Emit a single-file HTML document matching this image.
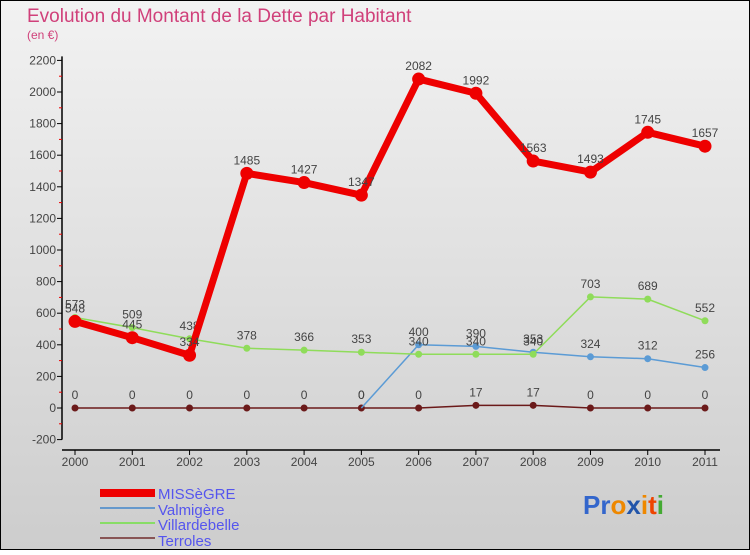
<!DOCTYPE html>
<html><head><meta charset="utf-8"><style>
body{margin:0;}
#c{width:750px;height:550px;position:relative;font-family:"Liberation Sans",sans-serif;}
</style></head><body>
<div id="c">
<svg id="s" width="750" height="550" xmlns="http://www.w3.org/2000/svg">
<defs><linearGradient id="bg" x1="0" y1="0" x2="0" y2="1"><stop offset="0" stop-color="#f2f2f2"/><stop offset="1" stop-color="#cdcdcd"/></linearGradient></defs>
<rect x="0.5" y="0.5" width="749" height="549" fill="url(#bg)" stroke="#000"/>
<text x="27" y="22" font-size="19" fill="#d0407a">Evolution du Montant de la Dette par Habitant</text>
<text x="27" y="39" font-size="12" fill="#d0407a">(en €)</text>
<g id="axes"></g><g id="series"></g>
<g>
<rect x="100" y="489" width="55" height="8" fill="#ee0000"/>
<text x="158" y="499" font-size="15" fill="#5555ee">MISSèGRE</text>
<rect x="100" y="507" width="55" height="2" fill="#6699cc"/>
<text x="158" y="515" font-size="15" fill="#5555ee">Valmigère</text>
<rect x="100" y="522" width="55" height="2" fill="#88dd66"/>
<text x="158" y="530" font-size="15" fill="#5555ee">Villardebelle</text>
<rect x="100" y="537" width="55" height="2" fill="#885555"/>
<text x="158" y="546" font-size="15" fill="#5555ee">Terroles</text>
</g>
<text x="583" y="514" font-size="26" font-weight="bold"><tspan fill="#3366cc">Pr</tspan><tspan fill="#ee8800">o</tspan><tspan fill="#2255aa">x</tspan><tspan fill="#ee8800">i</tspan><tspan fill="#ee4400">t</tspan><tspan fill="#44aa33">i</tspan></text>
</svg></div>
<script>
const years=["2000","2001","2002","2003","2004","2005","2006","2007","2008","2009","2010","2011"];
const yTicks=[-200,0,200,400,600,800,1000,1200,1400,1600,1800,2000,2200];
const missegre=[548,445,334,1485,1427,1347,2082,1992,1563,1493,1745,1657];
const valmigere=[null,null,null,null,null,0,400,390,353,324,312,256];
const villardebelle=[573,509,438,378,366,353,340,340,340,703,689,552];
const terroles=[0,0,0,0,0,0,0,17,17,0,0,0];
const NS="http://www.w3.org/2000/svg";
const X=i=>75+i*(630/11);
const Y=v=>408-v*(347.6/2200);
function mk(p,t,a){const e=document.createElementNS(NS,t);for(const k in a)e.setAttribute(k,a[k]);p.appendChild(e);return e;}
const ax=document.getElementById('axes'),sg=document.getElementById('series');
const yl=mk(ax,'line',{x1:62,x2:62,y1:Y(2200)-4,y2:Y(-200),stroke:'#000','stroke-width':1.5});


const xl=mk(ax,'line',{x1:62,x2:720,y1:450,y2:450,stroke:'#000','stroke-width':1.5});


yTicks.forEach((v,i)=>{
 mk(ax,'line',{x1:57,x2:62,y1:Y(v),y2:Y(v),stroke:'#000'});
 const t=mk(ax,'text',{x:56,y:Y(v)+4,'font-size':12,'text-anchor':'end',fill:'#444'});t.textContent=v;
 
 
 if(i<yTicks.length-1)mk(ax,'line',{x1:59,x2:62,y1:Y(v+100),y2:Y(v+100),stroke:'#e00'});
});
years.forEach((y,i)=>{
 mk(ax,'line',{x1:X(i),x2:X(i),y1:450,y2:455,stroke:'#000'});
 const t=mk(ax,'text',{x:X(i),y:466,'font-size':12,'text-anchor':'middle',fill:'#444'});t.textContent=y;
 
 
});
function series(name,data,color,w,r,labels){
 const g=mk(sg,'g',{});
 
 
 let d='';data.forEach((v,i)=>{if(v==null)return;d+=(d?'L':'M')+X(i)+' '+Y(v);});
 mk(g,'path',{d:d,fill:'none',stroke:color,'stroke-width':w,'stroke-linejoin':'round'});
 data.forEach((v,i)=>{if(v==null)return;
  if(!(name==='valmigere'&&v===0)){const c=mk(g,'circle',{cx:X(i),cy:Y(v),r:r,fill:color});
  
  }
  if(labels){const t=mk(g,'text',{x:X(i),y:Y(v)-9,'font-size':12,'text-anchor':'middle',fill:'#444'});t.textContent=v;
  
  }
 });
}
series('terroles',terroles,'#6b1a1a',1.5,3.5,true);
series('valmigere',valmigere,'#5b9bd5',1.5,3.5,true);
series('villardebelle',villardebelle,'#8fdc5a',1.5,3.5,true);
series('missegre',missegre,'#ee0000',7,6.5,true);
</script>
</body></html>
